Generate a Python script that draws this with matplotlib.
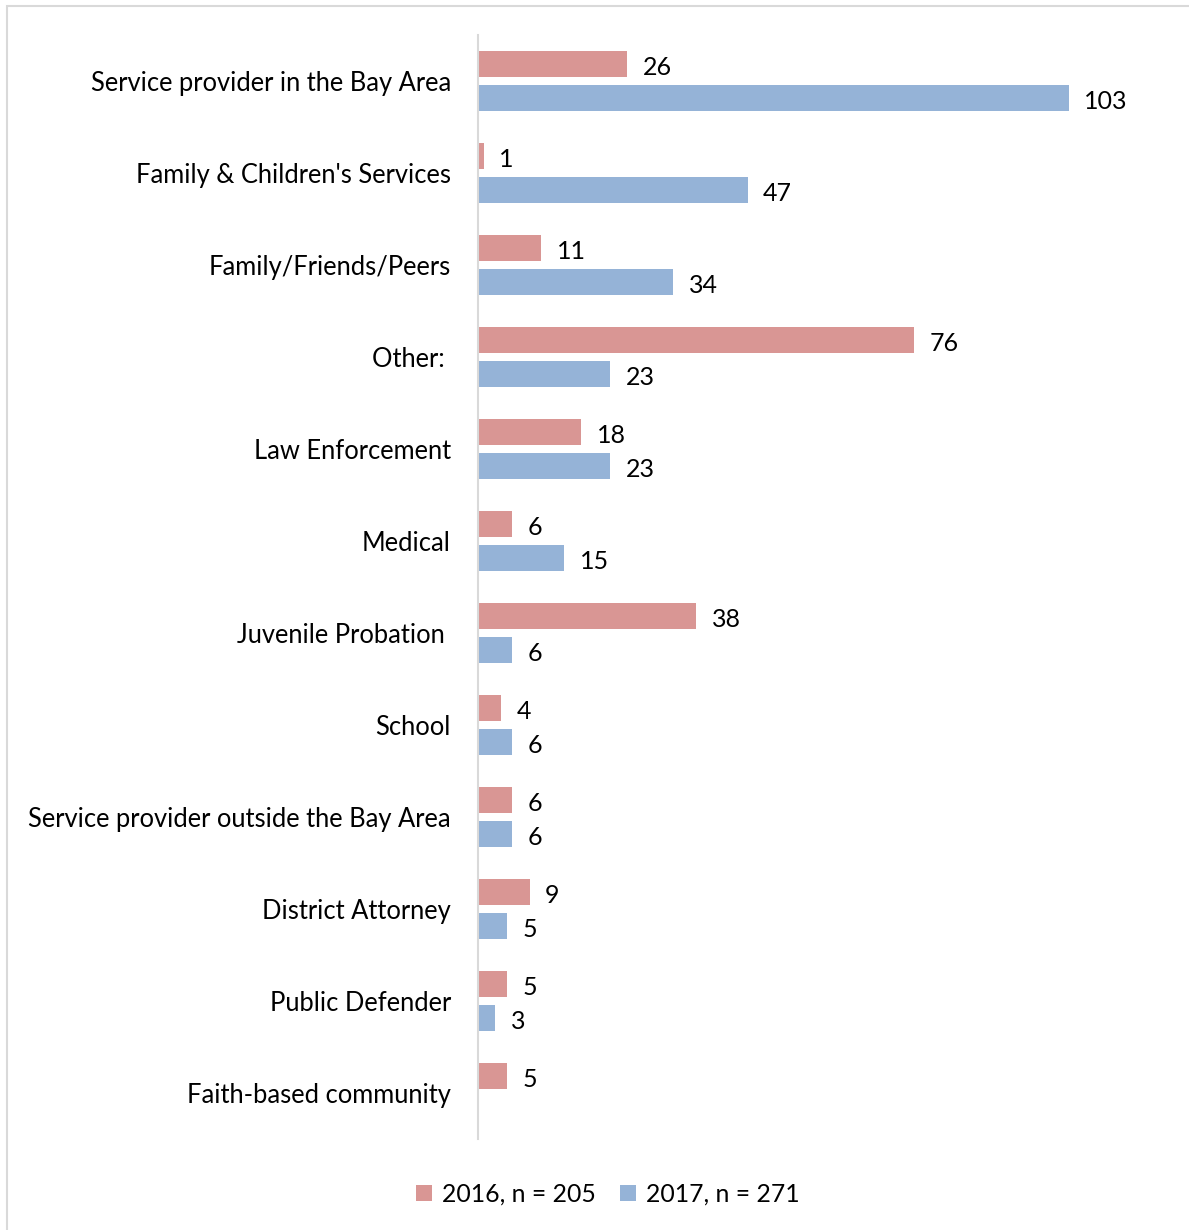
import numpy as np
import matplotlib.pyplot as plt
from matplotlib.patches import Rectangle

categories = ["Service provider in the Bay Area", "Family & Children's Services",
              "Family/Friends/Peers", "Other: ", "Law Enforcement", "Medical",
              "Juvenile Probation ", "School", "Service provider outside the Bay Area",
              "District Attorney", "Public Defender", "Faith-based community"]
vals_2016 = [26, 1, 11, 76, 18, 6, 38, 4, 6, 9, 5, 5]
vals_2017 = [103, 47, 34, 23, 23, 15, 6, 6, 6, 5, 3, 0]
series_names = ["2016, n = 205", "2017, n = 271"]

red = "#D99694"
blue = "#95B3D7"
fs = 18.4

plt.rcParams['font.family'] = ['Lato', 'DejaVu Sans']

fig = plt.figure(figsize=(11.89, 12.30), dpi=100)
ax = fig.add_axes([0.402, 0.074, 0.579, 0.8975])

y = np.arange(len(categories))
off = 0.185
h = 0.285
ax.barh(y - off, vals_2016, height=h, color=red, label=series_names[0])
ax.barh(y + off, vals_2017, height=h, color=blue, label=series_names[1])

# value labels next to bar ends
for i in range(len(categories)):
    ax.text(vals_2016[i] + 2.7, y[i] - off + 0.035, str(vals_2016[i]), va='center', ha='left', fontsize=18)
    if vals_2017[i] > 0:
        ax.text(vals_2017[i] + 2.7, y[i] + off + 0.035, str(vals_2017[i]), va='center', ha='left', fontsize=18)

ax.set_xlim(0, 120)
ax.set_ylim(len(categories) - 0.5, -0.5)
ax.set_yticks(y)
ax.set_yticklabels(categories, fontsize=fs)
ax.tick_params(axis='y', length=0, pad=19.5)
ax.set_xticks([])
for s in ['top', 'right', 'bottom']:
    ax.spines[s].set_visible(False)
ax.spines['left'].set_color('#d9d9d9')
ax.spines['left'].set_linewidth(1.5)

fig.legend(loc='center', bbox_to_anchor=(0.511, 0.029), ncol=2, frameon=False,
           fontsize=17.8, handlelength=0.65, handleheight=0.65, handletextpad=0.4,
           columnspacing=1.0)

# outer chart border
fig.patches.append(Rectangle((7 / 1189, -0.01), 1.0, 1 - 6 / 1230 + 0.01, transform=fig.transFigure,
                             fill=False, edgecolor='#d9d9d9', linewidth=1.5))

fig.savefig("out.png", dpi=100)
